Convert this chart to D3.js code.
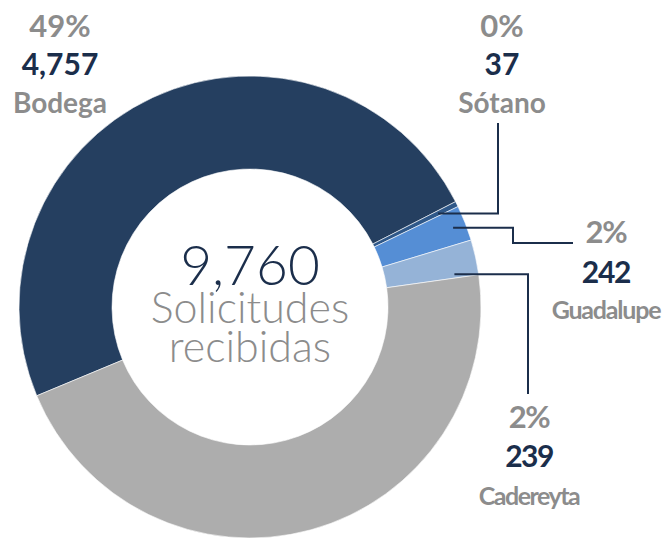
<!DOCTYPE html>
<html>
<head>
  <meta charset="utf-8">
  <title>Solicitudes recibidas</title>
  <script src="https://d3js.org/d3.v7.min.js"></script>
  <style>
    body { margin: 0; background: #fff; }
    svg text { font-family: "Lato", "DejaVu Sans", sans-serif; }
    .pct { font-size: 31px; font-weight: bold; fill: #8c8c8c; }
    .val { font-size: 30px; font-weight: bold; fill: #1b2e4b; }
    .name { font-weight: bold; fill: #8c8c8c; }
    .leader { fill: none; stroke: #1b2e4b; stroke-width: 2; }
  </style>
</head>
<body>
<svg id="chart" width="667" height="538"></svg>
<script>
// data
var categories = ["Bodega", "Sótano", "Guadalupe", "Cadereyta", "Otros"];
var values = [4757, 37, 242, 239, 4485];
var colors = ["#253f60", "#2f5889", "#558ed5", "#95b3d7", "#adadad"];
var totalLabel = ["Solicitudes", "recibidas"];

var total = d3.sum(values);
var data = categories.map(function(c, i) { return { name: c, value: values[i], color: colors[i] }; });

var svg = d3.select("#chart");
var cx = 250, cy = 307, outerR = 231, innerR = 138;

var pie = d3.pie()
  .sort(null)
  .value(function(d) { return d.value; })
  .startAngle(-112.6 * Math.PI / 180)
  .endAngle((360 - 112.6) * Math.PI / 180);

var arc = d3.arc().innerRadius(innerR).outerRadius(outerR);

var g = svg.append("g").attr("transform", "translate(" + cx + "," + cy + ")");
var arcs = pie(data);

g.selectAll("path.slice")
  .data(arcs)
  .enter()
  .append("path")
  .attr("class", "slice")
  .attr("d", arc)
  .attr("fill", function(d) { return d.data.color; })
  .attr("stroke", "#fff")
  .attr("stroke-width", 0.6);

// center text
g.append("text")
  .attr("text-anchor", "middle")
  .attr("y", -22)
  .style("font-size", "55px")
  .style("font-weight", "300")
  .style("fill", "#1b2e4b")
  .text(d3.format(",")(total));

g.selectAll("text.sub")
  .data(totalLabel)
  .enter()
  .append("text")
  .attr("class", "sub")
  .attr("text-anchor", "middle")
  .attr("y", function(d, i) { return 16 + i * 39; })
  .style("font-size", "43px")
  .style("font-weight", "300")
  .style("fill", "#8c8c8c")
  .text(function(d) { return d; });

// label layout (per slice), in page pixels
var layout = {
  "Bodega":    { x: 60,  y: [37, 75, 113], nameSize: 28, spacing: 0 },
  "Sótano":    { x: 502, y: [37, 75, 113], nameSize: 28, spacing: 0,
                 anchor: 0.5, r: 210, path: function(p) { return [p, [498, p[1]], [498, 123]]; } },
  "Guadalupe": { x: 606, y: [243, 283, 319], nameSize: 25, spacing: -1.2,
                 anchor: 0.5, r: 218, path: function(p) { return [p, [513, p[1]], [513, 243], [573, 243]]; } },
  "Cadereyta": { x: 529, y: [428, 467, 505], nameSize: 25, spacing: -1.5,
                 anchor: 0.88, r: 207, path: function(p) { return [p, [528, p[1]], [528, 394]]; } }
};

arcs.forEach(function(a) {
  var L = layout[a.data.name];
  if (!L) return;
  var pct = Math.round(a.data.value / total * 100) + "%";
  var lab = svg.append("g");
  lab.append("text").attr("class", "pct").attr("x", L.x).attr("y", L.y[0])
    .attr("text-anchor", "middle").style("letter-spacing", L.spacing + "px").text(pct);
  lab.append("text").attr("class", "val").attr("x", L.x).attr("y", L.y[1])
    .attr("text-anchor", "middle").style("letter-spacing", L.spacing + "px")
    .text(d3.format(",")(a.data.value));
  lab.append("text").attr("class", "name").attr("x", L.x).attr("y", L.y[2])
    .attr("text-anchor", "middle").style("font-size", L.nameSize + "px")
    .style("letter-spacing", L.spacing + "px").text(a.data.name);

  if (L.path) {
    var ang = a.startAngle + L.anchor * (a.endAngle - a.startAngle);
    var p = [cx + L.r * Math.sin(ang), cy - L.r * Math.cos(ang)];
    svg.append("path").attr("class", "leader").attr("d", d3.line()(L.path(p)));
  }
});
</script>
</body>
</html>
